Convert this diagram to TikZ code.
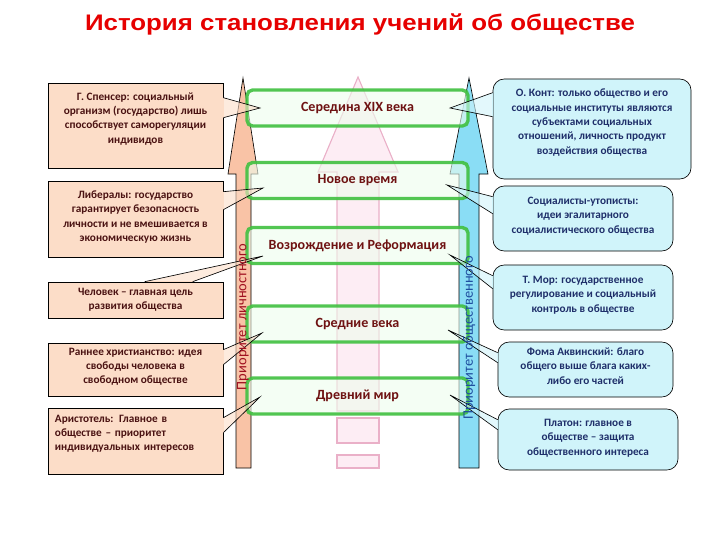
\documentclass[tikz,border=0pt]{standalone}
\usepackage{fontspec}
\setmainfont{Carlito}
\newfontfamily\headfont{Liberation Sans}
\usetikzlibrary{calc}
\definecolor{headred}{HTML}{E60000}
\definecolor{lfill}{HTML}{FCDDC8}
\definecolor{ltext}{HTML}{4A1212}
\definecolor{rfill}{HTML}{D0F4FA}
\definecolor{rtext}{HTML}{1F2F6A}
\definecolor{oarrow}{HTML}{F9C3A6}
\definecolor{barrow}{HTML}{8ADDF5}
\definecolor{pfill}{HTML}{FCE6F0}
\definecolor{pline}{HTML}{EAB0C8}
\definecolor{egreen}{HTML}{40C040}
\definecolor{efill}{HTML}{EDFDED}
\definecolor{etext}{HTML}{6E1212}
\definecolor{lprio}{HTML}{A01020}
\definecolor{rprio}{HTML}{1F4FA0}
\begin{document}
\begin{tikzpicture}[x=0.025cm,y=-0.025cm,line width=.45pt,
  lbox/.style={draw,fill=lfill,text=ltext,align=center,minimum width=4.375cm,inner sep=2pt,
    font=\fontsize{8}{10}\selectfont\bfseries},
  rbox/.style={draw,fill=rfill,rounded corners=8pt,text=rtext,align=center,inner sep=2pt,
    font=\fontsize{8}{10.3}\selectfont\bfseries},
  era/.style={draw=egreen,line width=2.4pt,rounded corners=4pt,fill=efill,fill opacity=.6,
    draw opacity=.9,text opacity=1,text=etext,minimum width=5.525cm,minimum height=.9cm,
    font=\fontsize{10}{12}\selectfont\bfseries},
  prio/.style={rotate=90,font=\fontsize{10.3}{12}\selectfont}]
\useasboundingbox (0,0) rectangle (720,540);
\node[text=headred,xscale=1.15,font=\headfont\fontsize{16}{19}\selectfont\bfseries] (title) at (360,24)
  {История становления учений об обществе};
\filldraw[fill=pfill,draw=pline,line width=.8pt,fill opacity=.7]
  (358,77) -- (398,172) -- (379,172) -- (379,411) -- (337,411) -- (337,172) -- (318,172) -- cycle;
\filldraw[fill=pfill,draw=pline,line width=.8pt,fill opacity=.7] (337,418) rectangle (379,443);
\filldraw[fill=pfill,draw=pline,line width=.8pt,fill opacity=.7] (337,455) rectangle (379,468);
\filldraw[fill=oarrow]
  (243,78) -- (258,174) -- (251,174) -- (251,468) -- (236,468) -- (236,174) -- (228,174) -- cycle;
\filldraw[fill=barrow]
  (469,78) -- (488,174) -- (479,174) -- (479,468) -- (459,468) -- (459,174) -- (450,174) -- cycle;
\node[era] (mid19) at (357.5,108) {Середина XIX века};
\node[era] (newage) at (357.5,180.5) {Новое время};
\node[era] (renaiss) at (357.5,245.5) {Возрождение и Реформация};
\node[era] (middle) at (357.5,324) {Средние века};
\node[era] (ancient) at (357.5,396) {Древний мир};
\coordinate (tspencer) at (260,108); \coordinate (tliberal) at (263,188);
\coordinate (tman) at (263,256); \coordinate (tchrist) at (262,333);
\coordinate (taristotle) at (260,397);
\coordinate (tcomte) at (450,108); \coordinate (tutopia) at (447,185);
\coordinate (tmore) at (450,255); \coordinate (taquinas) at (448,330);
\coordinate (tplato) at (450,395);
\node[lbox,minimum height=2.125cm,text depth=10.5pt] (spencer) at (135.5,125.5)
  {Г. Спенсер: социальный\\организм (государство) лишь\\способствует саморегуляции\\индивидов};
\node[lbox,minimum height=1.9cm,text depth=4.1pt] (liberal) at (135.5,219)
  {Либералы: государство\\гарантирует безопасность\\личности и не вмешивается в\\экономическую жизнь};
\node[lbox,minimum height=.9cm] (man) at (135.5,300)
  {Человек – главная цель\\развития общества};
\node[lbox,minimum height=1.325cm,text depth=4.8pt] (christ) at (135.5,369.5)
  {Раннее христианство: идея\\свободы человека в\\свободном обществе};
\node[lbox,minimum height=1.65cm,text depth=32pt,text width=4.025cm,align=left] (aristotle) at (135.5,441)
  {Аристотель: Главное в\\обществе – приоритет\\индивидуальных интересов};
\node[rbox,minimum width=4.95cm,minimum height=2.5cm,text depth=10.5pt] (comte) at (592,129)
  {О. Конт: только общество и его\\социальные институты являются\\субъектами социальных\\отношений, личность продукт\\воздействия общества};
\node[rbox,minimum width=4.5cm,minimum height=1.625cm,text depth=5pt] (utopia) at (583,218.5)
  {Социалисты-утописты:\\идеи эгалитарного\\социалистического общества};
\node[rbox,minimum width=4.5cm,minimum height=1.625cm,text depth=5pt] (more) at (583,297.5)
  {Т. Мор: государственное\\регулирование и социальный\\контроль в обществе};
\node[rbox,minimum width=4.375cm,minimum height=1.375cm,text depth=5.5pt] (aquinas) at (585.5,369.5)
  {Фома Аквинский: благо\\общего выше блага каких-\\либо его частей};
\node[rbox,minimum width=4.5cm,minimum height=1.525cm,text depth=3.4pt] (plato) at (588,439.5)
  {Платон: главное в\\обществе – защита\\общественного интереса};
\foreach \b/\p/\q/\t in {spencer/15/35/tspencer,liberal/11/29/tliberal,christ/7/22/tchrist,aristotle/10/25/taristotle}{
  \fill[lfill,fill opacity=.6] ($(\b.north east)+(0,\p)$) -- (\t) -- ($(\b.north east)+(0,\q)$) -- cycle;
  \draw[lfill,line width=1pt] ($(\b.north east)+(0,\p)$) -- ($(\b.north east)+(0,\q)$);
  \draw ($(\b.north east)+(0,\p)$) -- (\t) -- ($(\b.north east)+(0,\q)$);}
\fill[lfill,fill opacity=.6] ($(man.north west)+(97,0)$) -- (tman) -- ($(man.north west)+(145,0)$) -- cycle;
\draw[lfill,line width=1pt] ($(man.north west)+(97,0)$) -- ($(man.north west)+(145,0)$);
\draw ($(man.north west)+(97,0)$) -- (tman) -- ($(man.north west)+(145,0)$);
\foreach \b/\p/\q/\t in {comte/14/38/tcomte,utopia/11/28/tutopia,more/11/24/tmore,aquinas/11/21/taquinas,plato/11/21/tplato}{
  \fill[rfill,fill opacity=.6] ($(\b.north west)+(0,\p)$) -- (\t) -- ($(\b.north west)+(0,\q)$) -- cycle;
  \draw[rfill,line width=1pt] ($(\b.north west)+(0,\p)$) -- ($(\b.north west)+(0,\q)$);
  \draw ($(\b.north west)+(0,\p)$) -- (\t) -- ($(\b.north west)+(0,\q)$);}
\node[prio,text=lprio] (lpriority) at (243,317) {Приоритет личностного};
\node[prio,text=rprio] (rpriority) at (469,338) {Приоритет общественного};
\end{tikzpicture}
\end{document}
